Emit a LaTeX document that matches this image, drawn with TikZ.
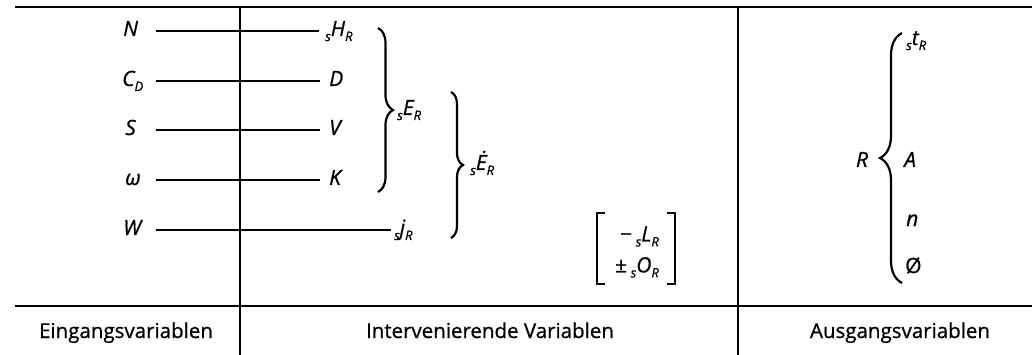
\documentclass[tikz,border=0pt]{standalone}
\usepackage{fontspec}
\setmainfont{Open Sans}[FakeBold=0.8]
\usetikzlibrary{decorations.pathreplacing}
\newcommand{\lo}[1]{\lower5pt\hbox{\fontsize{13}{13}\selectfont #1}}
\begin{document}
\begin{tikzpicture}[x=1pt,y=-1pt,
  var/.style={font=\fontsize{21}{21}\selectfont\itshape, inner sep=0pt, text height=15pt, text depth=5pt},
  leftvar/.style={var, anchor=west, text width=25pt, align=left},
  rightvar/.style={var, anchor=west},
  conn/.style={line width=1.5pt, shorten <=8pt, shorten >=6pt},
  frame/.style={line width=1.4pt},
  brc/.style={decorate, decoration={brace, amplitude=#1}, line width=2.2pt},
  brk/.style={line width=1.5pt},
  foot/.style={font=\fontsize{20.5}{20.5}\selectfont, anchor=base, inner sep=0pt}
]
\useasboundingbox (0,0) rectangle (1032,355);
% frame
\draw[frame, line width=2.2pt] (15,7) -- (1032,7);
\draw[frame, line width=1.8pt] (15,306) -- (1032,306);
\draw[frame] (240,7) -- (240,355);
\draw[frame] (738,7) -- (738,355);
% input variables
\node[leftvar] (N) at (123,31) {N};
\node[leftvar] (CD) at (122,81) {C\lo{D}};
\node[leftvar] (S) at (125,130) {S};
\node[leftvar] (w) at (125,180) {ω};
\node[leftvar] (W) at (123,230) {W};
% intervening variables
\node[rightvar] (H) at (325,31) {\lo{s}H\lo{R}};
\node[rightvar] (D) at (329,81) {D};
\node[rightvar] (V) at (329,130) {V};
\node[rightvar] (K) at (329,180) {K};
\node[rightvar] (j) at (394,230) {\lo{s}j\lo{R}};
\draw[conn] (N.east) -- (H.west);
\draw[conn, shorten <=9pt, shorten >=9pt] (CD.east) -- (D.west);
\draw[conn, shorten <=6pt, shorten >=9pt] (S.east) -- (V.west);
\draw[conn, shorten <=6pt, shorten >=9pt] (w.east) -- (K.west);
\draw[conn, shorten >=3pt] (W.east) -- (j.west);
% braces
\coordinate (b1t) at (378,28);
\coordinate (b1b) at (378,192);
\draw[brc=15pt] (b1t) -- (b1b);
\node[rightvar] (E) at (397,110) {\lo{s}E\lo{R}};
\coordinate (b2t) at (451,92);
\coordinate (b2b) at (451,238);
\draw[brc=12pt] (b2t) -- (b2b);
\node[rightvar] (Ed) at (470,165) {\lo{s}Ė\lo{R}};
% bracket matrix
\node[var, align=right, anchor=center, text height=, text depth=, font=\fontsize{21}{31}\selectfont\itshape] (M) at (637,252) {{\upshape −}\,\lo{s}L\lo{R}\\{\upshape ±}\,\lo{s}O\lo{R}};
\draw[brk] (605,213) -- (597,213) -- (597,284) -- (605,284);
\draw[brk] (667,213) -- (675,213) -- (675,284) -- (667,284);
% output variables
\node[var] (R) at (862,162) {R};
\coordinate (b3b) at (902,283);
\coordinate (b3t) at (902,33);
\draw[brc=22pt] (b3b) -- (b3t);
\node[rightvar] (t) at (906,40) {\lo{s}t\lo{R}};
\node[rightvar] (A) at (904,162) {A};
\node[rightvar] (n) at (906,221) {n};
\node[rightvar] (O) at (905,268) {\upshape Ø};
% footer
\node[foot] (f1) at (126,338) {Eingangsvariablen};
\node[foot] (f2) at (490,338) {Intervenierende Variablen};
\node[foot] (f3) at (900,338) {Ausgangsvariablen};
\end{tikzpicture}
\end{document}
